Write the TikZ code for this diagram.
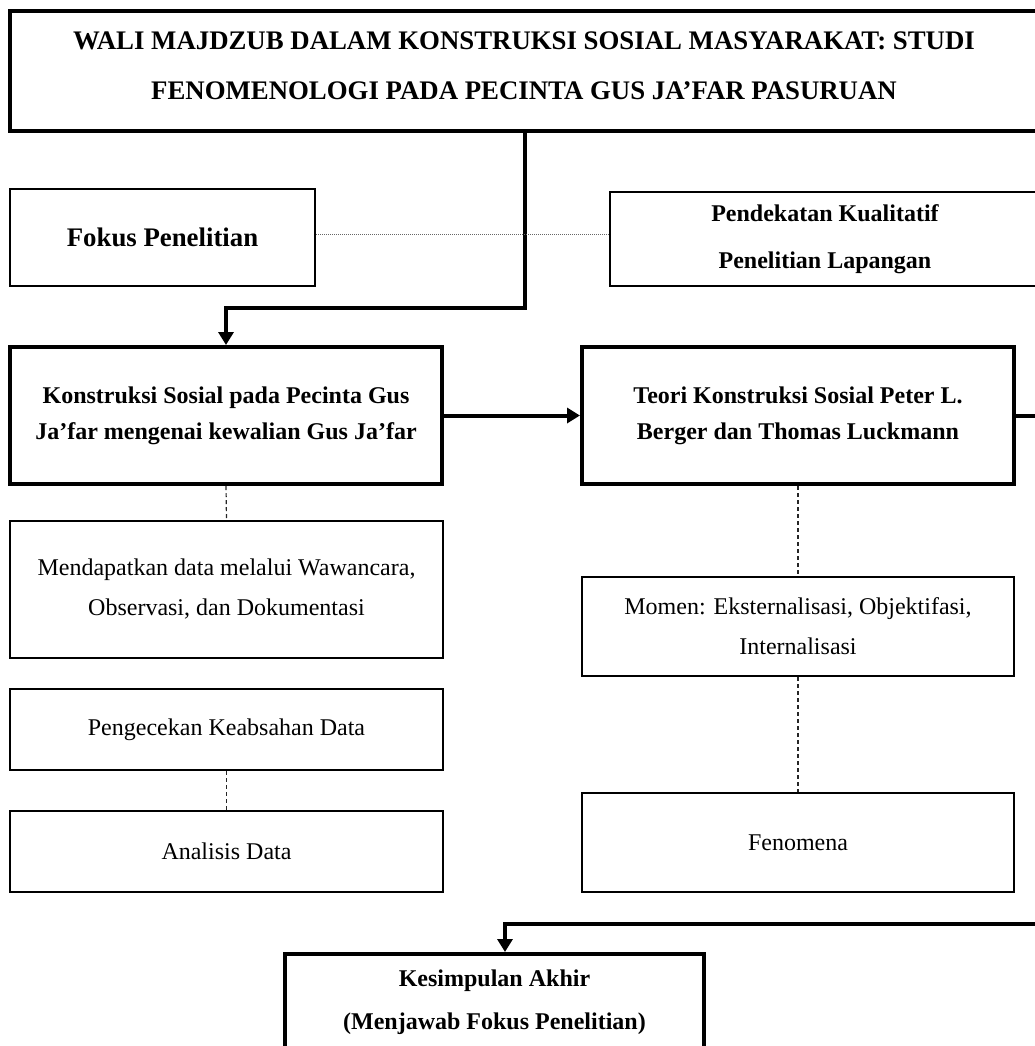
\documentclass[tikz,border=0pt]{standalone}
\usepackage{fontspec}
\setmainfont{Liberation Serif}
\usetikzlibrary{arrows.meta}
\begin{document}
\begin{tikzpicture}[x=0.5pt,y=-0.5pt,
  thickbox/.style={draw, line width=2pt, inner sep=0pt, align=center},
  normbox/.style={draw, line width=1.3pt, inner sep=0pt, align=center},
  bf/.style={font=\fontsize{12}{#1}\selectfont\bfseries},
  bigbf/.style={font=\fontsize{13.4}{#1}\selectfont\bfseries},
  rm/.style={font=\fontsize{12}{#1}\selectfont},
  arrowline/.style={line width=2pt, -{Triangle[length=6.5pt,width=7.5pt]}},
  dashline/.style={line width=0.6pt, dash pattern=on 2pt off 1.5pt, black!85},
  dotline/.style={line width=0.5pt, dash pattern=on 0.5pt off 0.5pt, black!60}]
\clip (0,0) rectangle (1035,1046);
% title
\node[thickbox, minimum width=517.5pt, minimum height=60pt] (title) at (527.5,71) {};
\node[bigbf=25pt, align=center, inner sep=0pt] (titletext) at (524,66)
  {WALI MAJDZUB DALAM KONSTRUKSI SOSIAL MASYARAKAT: STUDI\\FENOMENOLOGI PADA PECINTA GUS JA’FAR PASURUAN};
% second row
\node[normbox, bigbf=18pt, minimum width=152.5pt, minimum height=48.5pt] (fokus) at (162.5,237.5) {Fokus Penelitian};
\node[normbox, bf=23.5pt, minimum width=215pt, minimum height=47pt] (pend) at (825,239) {Pendekatan Kualitatif\\Penelitian Lapangan};
% main boxes
\node[thickbox, bf=18pt, minimum width=216pt, minimum height=68.5pt] (konst) at (226,415.5) {Konstruksi Sosial pada Pecinta Gus\\Ja’far mengenai kewalian Gus Ja’far};
\node[thickbox, bf=18pt, minimum width=216pt, minimum height=68.5pt] (teori) at (798,415.5) {Teori Konstruksi Sosial Peter L.\\Berger dan Thomas Luckmann};
% left column
\node[normbox, rm=20pt, minimum width=216.5pt, minimum height=68.5pt] (mend) at (226.5,589.5) {Mendapatkan data melalui Wawancara,\\Observasi, dan Dokumentasi};
\node[normbox, rm=20pt, minimum width=216.5pt, minimum height=40.5pt] (peng) at (226.5,729.5) {Pengecekan Keabsahan Data};
\node[normbox, rm=20pt, minimum width=216.5pt, minimum height=40.5pt] (anal) at (226.5,851.5) {Analisis Data};
% right column
\node[normbox, rm=20pt, minimum width=216pt, minimum height=49.5pt] (momen) at (798,626.5) {Momen: Eksternalisasi, Objektifasi,\\Internalisasi};
\node[normbox, rm=20pt, minimum width=216pt, minimum height=49.5pt] (fen) at (798,842.5) {Fenomena};
% conclusion
\node[thickbox, bf=21.5pt, minimum width=209.5pt, minimum height=48pt] (kes) at (494.5,1002) {Kesimpulan Akhir\\(Menjawab Fokus Penelitian)};
% connectors
\coordinate (t1) at (525,308);
\draw[arrowline] (title.south -| t1) -- (t1) -| (konst.north);
\draw[dotline] (fokus.east |- 0,234) -- (pend.west |- 0,234);
\draw[arrowline] (konst.east) -- (teori.west);
\coordinate (r1) at (1050,415.5);
\coordinate (bend) at (505,924);
\draw[arrowline] (teori.east) -- (r1) |- (bend) -- (bend |- kes.north);
\draw[dashline] (konst.south) -- (mend.north);
\draw[dashline] (peng.south) -- (anal.north);
\draw[dashline] (teori.south) -- (momen.north);
\draw[dashline] (momen.south) -- (fen.north);
\end{tikzpicture}
\end{document}
